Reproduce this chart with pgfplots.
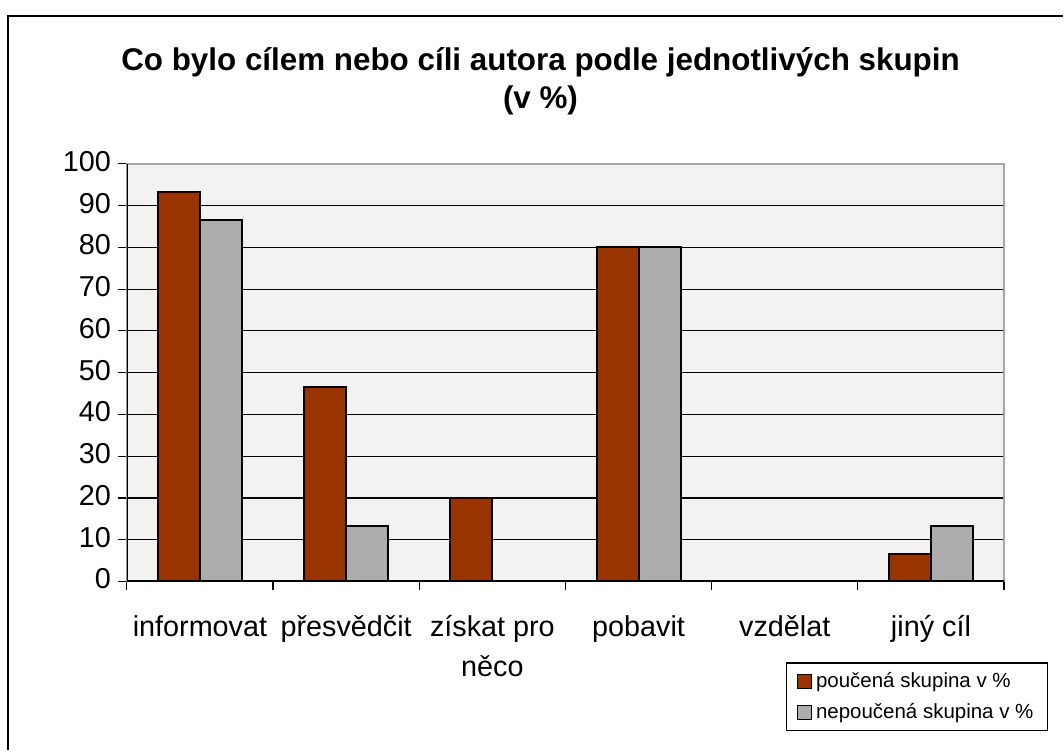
\documentclass[border=0pt]{standalone}
\usepackage{pgfplots}
\pgfplotsset{compat=1.18}
\usepackage{fontspec}
\setmainfont{Liberation Sans}
\definecolor{barbrown}{RGB}{153,51,0}
\definecolor{bargray}{RGB}{172,172,172}
\definecolor{plotbg}{RGB}{242,242,242}
\pgfplotsset{
  sq legend/.style={legend image code/.code={
    \draw[##1,line width=0.6pt] (0pt,-3.5pt) rectangle (7pt,3.5pt);}},
}
\begin{document}
\begin{tikzpicture}
% page size 1064x751 px at 0.5pt per px
\path (0,0) rectangle (532pt,375.5pt);
\draw[line width=1pt] (4pt,0) -- (4pt,367.5pt) -- (532pt,367.5pt);
\node[align=center, font=\bfseries\fontsize{15.7}{19}\selectfont] at (270.5pt,335pt)
  {Co bylo cílem nebo cíli autora podle jednotlivých skupin\\(v \%)};
\begin{axis}[
  at={(63.5pt,84.5pt)}, anchor=south west,
  scale only axis, width=439pt, height=209pt,
  ybar=0pt, bar width=21pt,
  xmin=-0.5, xmax=5.5, ymin=0, ymax=100,
  xtick={-0.5,0.5,...,5.5},
  x tick label as interval,
  xticklabels={informovat,přesvědčit,získat pro\\něco,pobavit,vzdělat,jiný cíl},
  ytick={0,10,...,100},
  xtick pos=left, ytick pos=left,
  ymajorgrids, grid style={black, line width=0.6pt},
  axis background/.style={fill=plotbg},
  axis line style={draw=gray!70, line width=1pt},
  tick align=outside, major tick length=4.5pt,
  tick style={black, line width=0.6pt},
  tick label style={font=\fontsize{14.4}{18.5}\selectfont},
  typeset ticklabels with strut,
  xticklabel style={align=center, yshift=-5.5pt,
    font=\fontsize{14.4}{20}\selectfont},
  /pgf/number format/assume math mode=true,
  legend cell align=left,
  legend style={at={(0.7517,-0.194)}, anchor=north west, draw=black,
    line width=0.6pt, fill=white, font=\fontsize{10.25}{12}\selectfont,
    row sep=2.5pt, inner xsep=5pt, inner ysep=2.5pt},
]
\addplot[fill=barbrown, draw=black, line width=1pt, sq legend] coordinates {
  (0,93.33) (1,46.67) (2,20) (3,80) (4,0) (5,6.67)
};
\addlegendentry{poučená skupina v \%}
\addplot[fill=bargray, draw=black, line width=1pt, sq legend] coordinates {
  (0,86.67) (1,13.33) (2,0) (3,80) (4,0) (5,13.33)
};
\addlegendentry{nepoučená skupina v \%}
\draw[black, line width=1pt] (rel axis cs:0,1) -- (rel axis cs:0,0) -- (rel axis cs:1,0);
\end{axis}
\end{tikzpicture}
\end{document}
